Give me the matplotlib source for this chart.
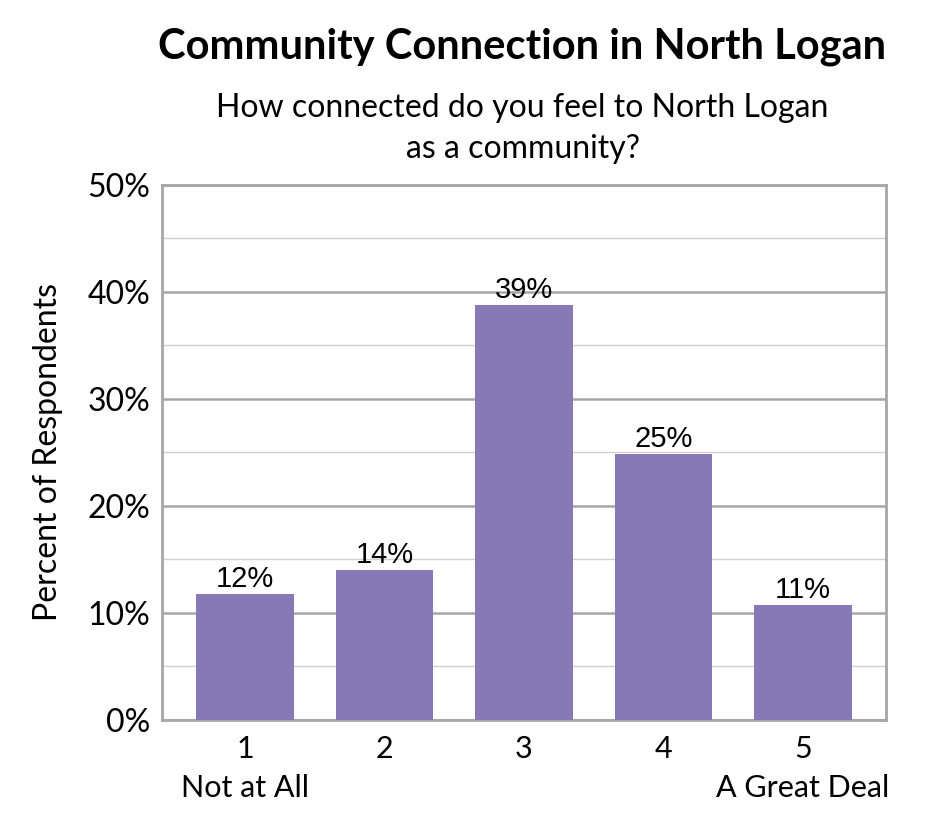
import matplotlib.pyplot as plt
from matplotlib.ticker import MultipleLocator, PercentFormatter

# survey answers, 1 = not at all ... 5 = a great deal
categories = ["1\nNot at All", "2", "3", "4", "5\nA Great Deal"]
percents = [11.8, 14.0, 38.8, 24.8, 10.7]
labels = ["12%", "14%", "39%", "25%", "11%"]

bar_color = "#8779B5"
major_grey = "#A6A6A6"
minor_grey = "#D0D0D0"
calibri_like = ["Lato", "DejaVu Sans"]

fig = plt.figure(figsize=(9.45, 8.4), dpi=100)
ax = fig.add_axes([0.171, 0.143, 0.767, 0.637])

x = list(range(len(categories)))
ax.bar(x, percents, width=0.7, color=bar_color, zorder=3)

for xi, v, lab in zip(x, percents, labels):
    ax.text(xi, v + 0.1, lab, ha="center", va="bottom", fontsize=21,
            family="Liberation Sans", zorder=4)

ax.set_xlim(-0.6, 4.6)
ax.set_ylim(0, 50)
ax.yaxis.set_major_locator(MultipleLocator(10))
ax.yaxis.set_minor_locator(MultipleLocator(5))
ax.yaxis.set_major_formatter(PercentFormatter(decimals=0))
ax.grid(axis="y", which="major", color=major_grey, linewidth=1.8, zorder=0)
ax.grid(axis="y", which="minor", color=minor_grey, linewidth=1.0, zorder=0)

ax.set_xticks(x)
ax.set_xticklabels(categories, fontsize=22, family=calibri_like, linespacing=1.45)
ax.tick_params(axis="x", length=0, pad=11)
ax.tick_params(axis="y", which="both", length=0, pad=8, labelsize=23)
for t in ax.get_yticklabels():
    t.set_family(calibri_like)

for s in ax.spines.values():
    s.set_color(major_grey)
    s.set_linewidth(2)

ax.set_ylabel("Percent of Respondents", fontsize=23, family=calibri_like, labelpad=18)

fig.text(0.552, 0.944, "Community Connection in North Logan", ha="center", va="center",
         fontsize=30, fontweight="bold", family=calibri_like)
fig.text(0.553, 0.847, "How connected do you feel to North Logan\nas a community?",
         ha="center", va="center", fontsize=23, family=calibri_like, linespacing=1.45)

fig.savefig("out.png", dpi=100)
